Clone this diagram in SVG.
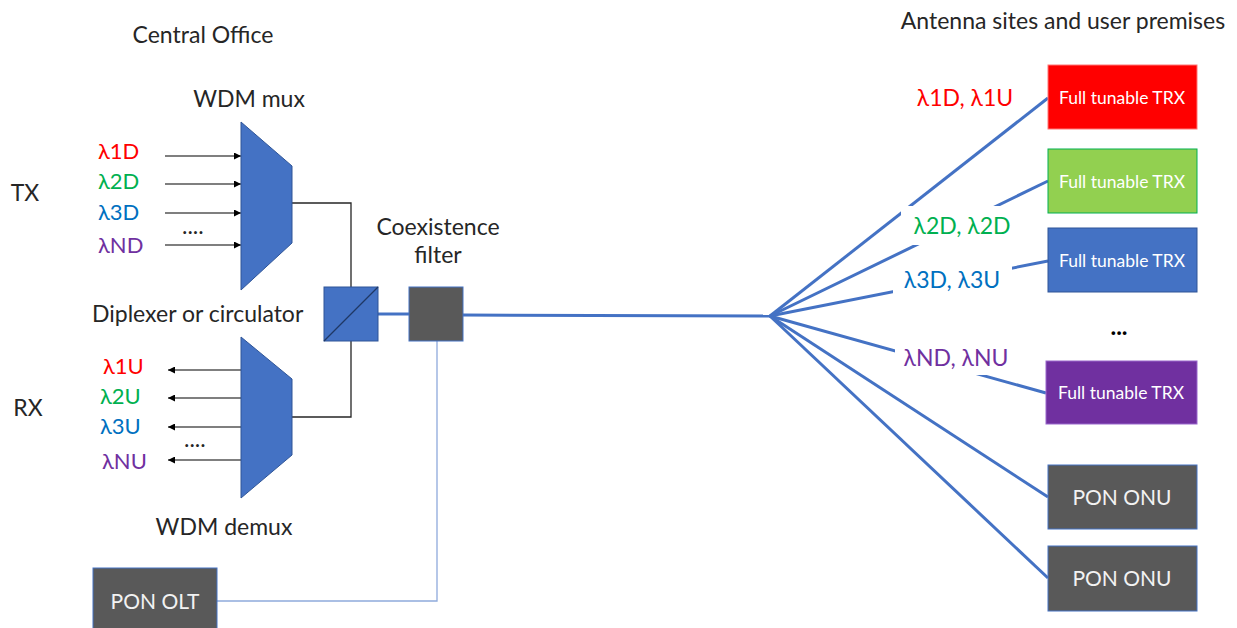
<svg xmlns="http://www.w3.org/2000/svg" width="1237" height="628" viewBox="0 0 1237 628">
<style>
text{font-family:Lato,"Liberation Sans","DejaVu Sans",sans-serif}
.t{font-size:23px;fill:#262626}
.lam{font-size:22px}
.r{fill:#ff0000}.g{fill:#00b050}.b{fill:#0070c0}.p{fill:#7030a0}
.trx{font-size:17.5px;fill:#ffffff}
.pon{font-size:21px;fill:#f2f2f2}
.fib{stroke:#4472c4;stroke-width:3;fill:none}
.blk{stroke:#262626;stroke-width:1.3;fill:none}
.arr{stroke:#000;stroke-width:1.2;fill:none;marker-end:url(#ah)}
.dev{fill:#4472c4;stroke:#2f5597;stroke-width:1}
.lbg{fill:#ffffff}
</style>
<defs>
<marker id="ah" viewBox="0 0 10 10" refX="10" refY="5" markerWidth="8" markerHeight="7" markerUnits="userSpaceOnUse" orient="auto">
<path d="M0,0 L10,5 L0,10 z" fill="#000"/>
</marker>
</defs>
<rect width="1237" height="628" fill="#ffffff"/>

<g id="connectors">
<polyline class="blk" points="292,203 351,203 351,287"/>
<polyline class="blk" points="292,417 351,417 351,341"/>
<line class="fib" x1="378" y1="314" x2="409" y2="314"/>
<line class="fib" x1="463" y1="315" x2="770" y2="316"/>
<polyline points="217,601 437,601 437,341" fill="none" stroke="#8faadc" stroke-width="1.3"/>
<line class="fib" x1="770" y1="316" x2="1048" y2="98"/>
<line class="fib" x1="770" y1="316" x2="1048" y2="181"/>
<line class="fib" x1="770" y1="316" x2="1048" y2="261"/>
<line class="fib" x1="770" y1="316" x2="1046" y2="393"/>
<line class="fib" x1="770" y1="316" x2="1048" y2="497"/>
<line class="fib" x1="770" y1="316" x2="1048" y2="578"/>
<line class="arr" x1="165" y1="156" x2="241" y2="156"/>
<line class="arr" x1="165" y1="184" x2="241" y2="184"/>
<line class="arr" x1="165" y1="213" x2="241" y2="213"/>
<line class="arr" x1="165" y1="245" x2="241" y2="245"/>
<line class="arr" x1="245" y1="370" x2="168" y2="370"/>
<line class="arr" x1="245" y1="398" x2="168" y2="398"/>
<line class="arr" x1="245" y1="427" x2="168" y2="427"/>
<line class="arr" x1="245" y1="460" x2="168" y2="460"/>
</g>

<g id="titles">
<text class="t" x="203" y="43" text-anchor="middle">Central Office</text>
<text class="t" x="1063" y="29" text-anchor="middle">Antenna sites and user premises</text>
<text class="t" x="25" y="201" text-anchor="middle">TX</text>
<text class="t" x="28" y="416" text-anchor="middle">RX</text>
</g>

<g id="wdm-mux">
<polygon class="dev" points="241,122 292,166 292,243 241,290"/>
<text class="t" x="249" y="107" text-anchor="middle">WDM mux</text>
<text class="lam r" x="98" y="159">λ1D</text>
<text class="lam g" x="98" y="189">λ2D</text>
<text class="lam b" x="98" y="220">λ3D</text>
<text class="lam p" x="98" y="253">λND</text>
<text class="t" x="182" y="234">....</text>
</g>

<g id="wdm-demux">
<polygon class="dev" points="241,337 292,379 292,455 241,498"/>
<text class="t" x="224" y="535" text-anchor="middle">WDM demux</text>
<text class="lam r" x="103" y="374">λ1U</text>
<text class="lam g" x="100" y="404">λ2U</text>
<text class="lam b" x="100" y="434">λ3U</text>
<text class="lam p" x="102" y="469">λNU</text>
<text class="t" x="184" y="447">....</text>
</g>

<g id="diplexer">
<rect class="dev" x="324" y="287" width="54" height="54"/>
<line x1="324" y1="341" x2="378" y2="287" stroke="#1f3864" stroke-width="1.2"/>
<text class="t" x="92" y="322">Diplexer or circulator</text>
</g>

<g id="coexistence-filter">
<rect x="409" y="287" width="54" height="54" fill="#595959" stroke="#4472c4" stroke-width="1"/>
<text class="t" x="438" y="235" text-anchor="middle">Coexistence</text>
<text class="t" x="438" y="263" text-anchor="middle">filter</text>
</g>

<g id="pon-olt">
<rect x="93" y="568" width="124" height="64" fill="#595959" stroke="#4472c4" stroke-width="1"/>
<text class="pon" x="155" y="609" text-anchor="middle">PON OLT</text>
</g>

<g id="labels">
<text class="t r" x="965" y="106" text-anchor="middle">λ1D, λ1U</text>
<rect class="lbg" x="901" y="206" width="122" height="39"/>
<text class="t g" x="962" y="234" text-anchor="middle">λ2D, λ2D</text>
<rect class="lbg" x="893" y="260" width="119" height="40"/>
<text class="t b" x="952" y="288" text-anchor="middle">λ3D, λ3U</text>
<rect class="lbg" x="895" y="337" width="122" height="38"/>
<text class="t p" x="956" y="366" text-anchor="middle">λND, λNU</text>
</g>

<g id="trx1">
<rect x="1048" y="65" width="149" height="64" fill="#ff0000" stroke="#ff7777" stroke-width="1"/>
<text class="trx" x="1122" y="104" text-anchor="middle">Full tunable TRX</text>
</g>
<g id="trx2">
<rect x="1048" y="149" width="149" height="64" fill="#92d050" stroke="#00b050" stroke-width="1"/>
<text class="trx" x="1122" y="188" text-anchor="middle">Full tunable TRX</text>
</g>
<g id="trx3">
<rect x="1048" y="228" width="149" height="64" fill="#4472c4" stroke="#2f5597" stroke-width="1"/>
<text class="trx" x="1122" y="267" text-anchor="middle">Full tunable TRX</text>
</g>
<g id="dots">
<text x="1119" y="335" text-anchor="middle" font-size="24" font-weight="bold" fill="#000">...</text>
</g>
<g id="trxN">
<rect x="1046" y="361" width="151" height="63" fill="#7030a0" stroke="#9966cc" stroke-width="1"/>
<text class="trx" x="1121" y="399" text-anchor="middle">Full tunable TRX</text>
</g>
<g id="onu1">
<rect x="1048" y="465" width="149" height="64" fill="#595959" stroke="#4472c4" stroke-width="1"/>
<text class="pon" x="1122" y="505" text-anchor="middle">PON ONU</text>
</g>
<g id="onu2">
<rect x="1048" y="546" width="149" height="65" fill="#595959" stroke="#4472c4" stroke-width="1"/>
<text class="pon" x="1122" y="586" text-anchor="middle">PON ONU</text>
</g>
</svg>
